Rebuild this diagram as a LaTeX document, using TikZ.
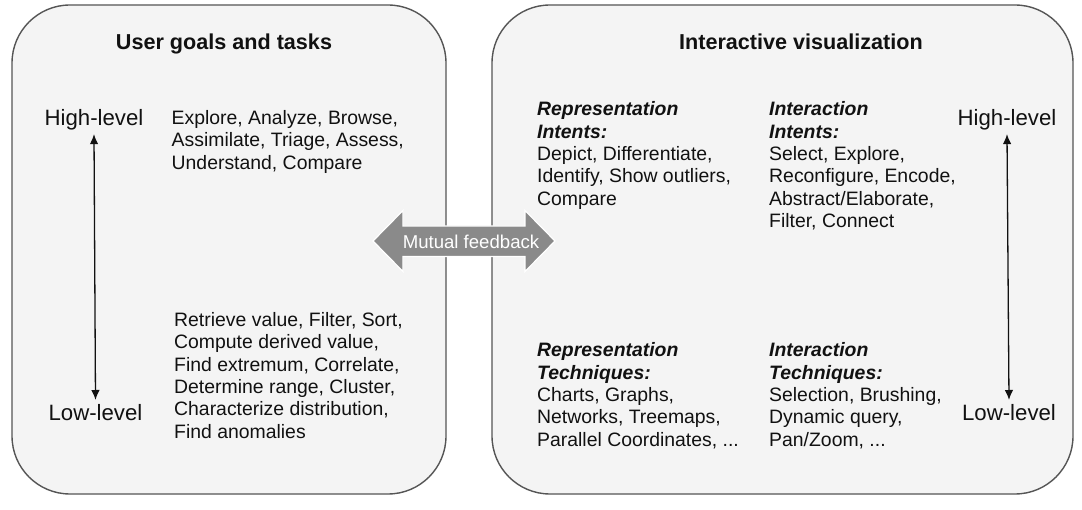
\documentclass[tikz,border=0pt]{standalone}
\usepackage{fontspec}
\setmainfont{Liberation Sans}
\usetikzlibrary{arrows.meta}
\definecolor{boxfill}{HTML}{F4F4F4}
\definecolor{boxline}{HTML}{555555}
\definecolor{fbgray}{HTML}{8A8A8A}
\definecolor{ink}{HTML}{111111}
\tikzset{
  panel/.style={draw=boxline, line width=1.4pt, fill=boxfill, rounded corners=58pt},
  paneltitle/.style={inner sep=0pt, anchor=north, font=\bfseries\fontsize{21.6}{25}\selectfont, text=ink},
  levellabel/.style={inner sep=0pt, font=\fontsize{22.2}{25}\selectfont, text=ink},
  body/.style={inner sep=0pt, anchor=north west, align=left, font=\fontsize{19.4}{22.4}\selectfont, text=ink},
  levelarrow/.style={draw=ink, line width=1.3pt, {Latex[length=10pt,width=8.5pt]}-{Latex[length=10pt,width=8.5pt]}},
  feedback/.style={fill=fbgray, draw=white, line width=1.2pt},
  fbtext/.style={inner sep=0pt, text=white, font=\fontsize{18.6}{20}\selectfont}
}
\begin{document}
\begin{tikzpicture}[x=1pt,y=-1pt]
\useasboundingbox (0,0) rectangle (1082,510);
% panels
\draw[panel] (12,5) rectangle (446,494);
\draw[panel] (492,5) rectangle (1073,494);
% titles
\node[paneltitle] (t1) at (224,34) {User goals and tasks};
\node[paneltitle] (t2) at (801,34) {Interactive visualization};
% left panel
\node[levellabel, anchor=north] (hl1) at (94,109) {High-level};
\node[levellabel, anchor=north] (ll1) at (95.5,404) {Low-level};
\draw[levelarrow] ([yshift=-4pt]hl1.south) -- ([yshift=4pt]ll1.north);
\node[body] (hi1) at (171.5,110) {Explore, Analyze, Browse,\\Assimilate, Triage, Assess,\\Understand, Compare};
\node[body] (lo1) at (174,312) {Retrieve value, Filter, Sort,\\Compute derived value,\\Find extremum, Correlate,\\Determine range, Cluster,\\Characterize distribution,\\Find anomalies};
% right panel
\node[levellabel, anchor=north] (hl2) at (1007,109) {High-level};
\node[levellabel, anchor=north] (ll2) at (1009,404) {Low-level};
\draw[levelarrow] ([yshift=-4pt]hl2.south) -- ([yshift=4pt]ll2.north);
\node[body] (ri) at (537,101.5) {\textbf{\textit{Representation}}\\\textbf{\textit{Intents:}}\\Depict, Differentiate,\\Identify, Show outliers,\\Compare};
\node[body] (ii) at (769,101.5) {\textbf{\textit{Interaction}}\\\textbf{\textit{Intents:}}\\Select, Explore,\\Reconfigure, Encode,\\Abstract/Elaborate,\\Filter, Connect};
\node[body] (rt) at (537,342.5) {\textbf{\textit{Representation}}\\\textbf{\textit{Techniques:}}\\Charts, Graphs,\\Networks, Treemaps,\\Parallel Coordinates, ...};
\node[body] (it) at (769,342.5) {\textbf{\textit{Interaction}}\\\textbf{\textit{Techniques:}}\\Selection, Brushing,\\Dynamic query,\\Pan/Zoom, ...};
% mutual feedback arrow
\draw[feedback] (373,241) -- (403,210.5) -- (403,226) -- (525,226) -- (525,210.5) -- (555,241)
  -- (525,271.5) -- (525,256.5) -- (403,256.5) -- (403,271.5) -- cycle;
\node[fbtext] (fb) at (471,242) {Mutual feedback};
\end{tikzpicture}
\end{document}
